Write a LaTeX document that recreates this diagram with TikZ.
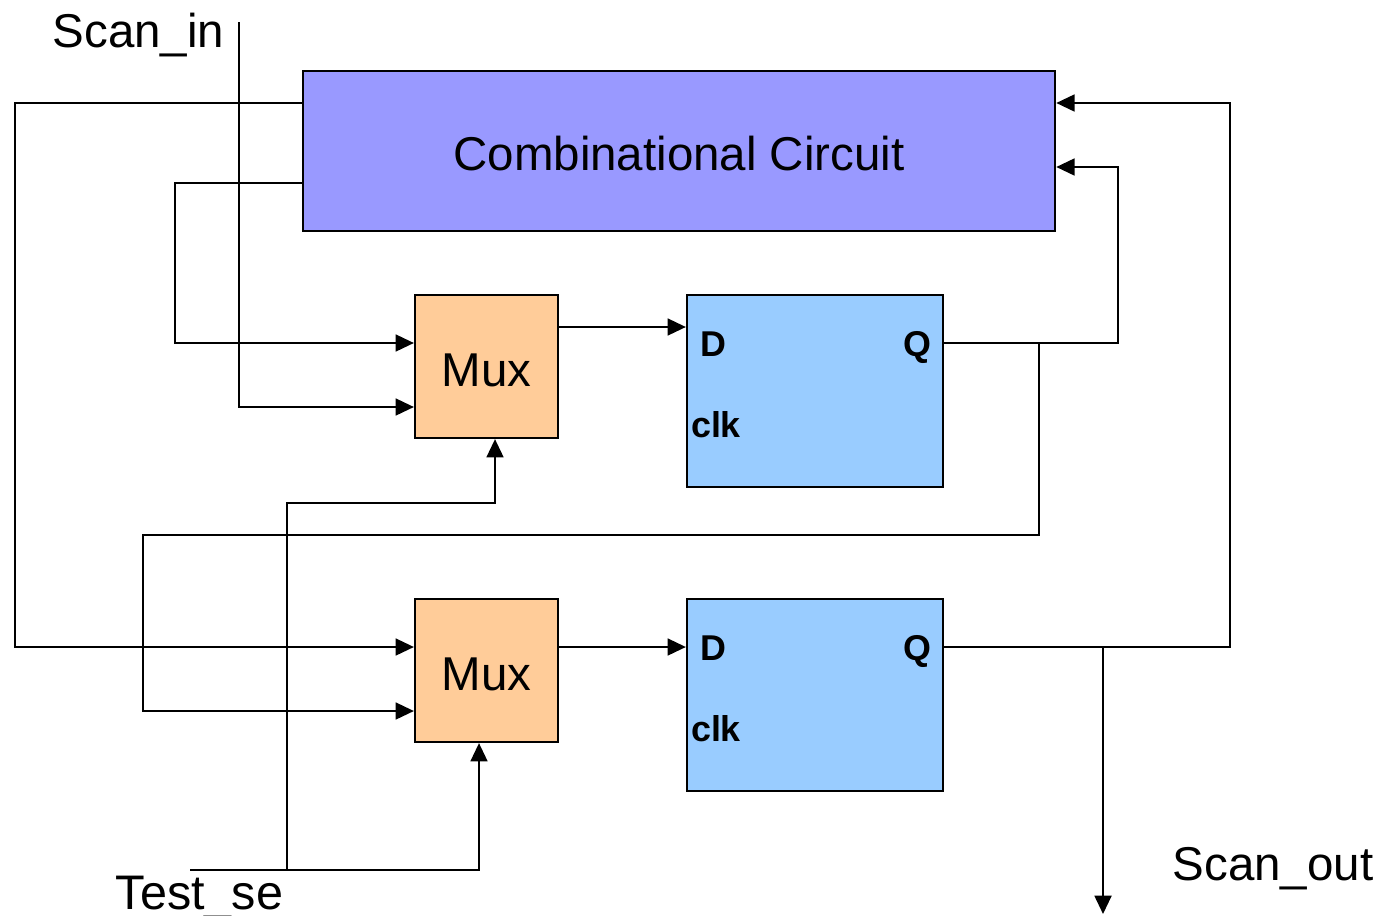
\documentclass[tikz,border=0pt]{standalone}
\usepackage{fontspec}
\setmainfont{Liberation Sans}
\usetikzlibrary{arrows.meta,positioning}
\definecolor{ccblue}{HTML}{9999FF}
\definecolor{muxorange}{HTML}{FFCC99}
\definecolor{ffblue}{HTML}{99CCFF}

\begin{document}
\begin{tikzpicture}[x=0.01cm,y=-0.01cm,
    every node/.style={font=\fontsize{13.5}{16}\selectfont},
    wire/.style={line width=0.6pt},
    arr/.style={wire,-{Triangle[length=5.2pt,width=4.8pt]}},
    blk/.style={draw=black,line width=0.6pt,inner sep=0pt},
    muxbox/.style={blk,fill=muxorange,minimum width=1.43cm,minimum height=1.43cm,text height=0.4cm},
    ffbox/.style={blk,fill=ffblue,minimum width=2.56cm,minimum height=1.92cm},
    pin/.style={font=\fontsize{10.2}{12}\selectfont\bfseries,inner sep=0pt,anchor=base}]
    \useasboundingbox (0,0) rectangle (1380,915);

    % blocks
    \node[blk,fill=ccblue,minimum width=7.52cm,minimum height=1.6cm,text height=0.4cm] (cc) at (679,151) {Combinational Circuit};
    \node[muxbox] (mux1) at (486.5,366.5) {Mux};
    \node[muxbox] (mux2) at (486.5,670.5) {Mux};
    \node[ffbox] (ff1) at (815,391) {};
    \node[ffbox] (ff2) at (815,695) {};

    % pins
    \node[pin] (d1) at (713,356) {D};
    \node[pin] (q1) at (917,356) {Q};
    \node[pin] (clk1) at (716,437) {clk};
    \node[pin] (d2) at (713,660) {D};
    \node[pin] (q2) at (917,660) {Q};
    \node[pin] (clk2) at (716,741) {clk};

    % labels
    \node[anchor=base west,inner sep=0pt] (sinlbl) at (52,47) {Scan\_in};
    \node[anchor=base west,inner sep=0pt,font=\fontsize{13.8}{16}\selectfont] (tselbl) at (115,909) {Test\_se};
    \node[anchor=base west,inner sep=0pt] (soutlbl) at (1172,880) {Scan\_out};

    \coordinate (sin) at (239,22);
    \coordinate (tse) at (190,870);
    \coordinate (sout) at (1103,914);
    \coordinate (q1tap) at (1039,343);
    \coordinate (q2tap) at (1103,647);
    \coordinate (setap) at (287,870);

    % wires
    \draw[arr] (sin) |- (mux1.west |- 0,407);
    \draw[arr] (cc.west |- 0,103) -| (15,647) -- (mux2.west |- 0,647);
    \draw[arr] (cc.west |- 0,183) -| (175,343) -- (mux1.west |- 0,343);
    \draw[arr] (mux1.east |- 0,327) -- (ff1.west |- 0,327);
    \draw[arr] (mux2.east |- 0,647) -- (ff2.west |- 0,647);
    \draw[arr] (ff1.east |- 0,343) -| (1118,167) -- (cc.east |- 0,167);
    \draw[arr] (q1tap) |- (143,535) |- (mux2.west |- 0,711);
    \draw[arr] (ff2.east |- 0,647) -| (1230,103) -- (cc.east |- 0,103);
    \draw[arr] (q2tap) -- (sout);
    \draw[arr] (tse) -| (mux2.south -| 479,0);
    \draw[arr] (setap) |- (495,503) -- (mux1.south -| 495,0);
\end{tikzpicture}
\end{document}
